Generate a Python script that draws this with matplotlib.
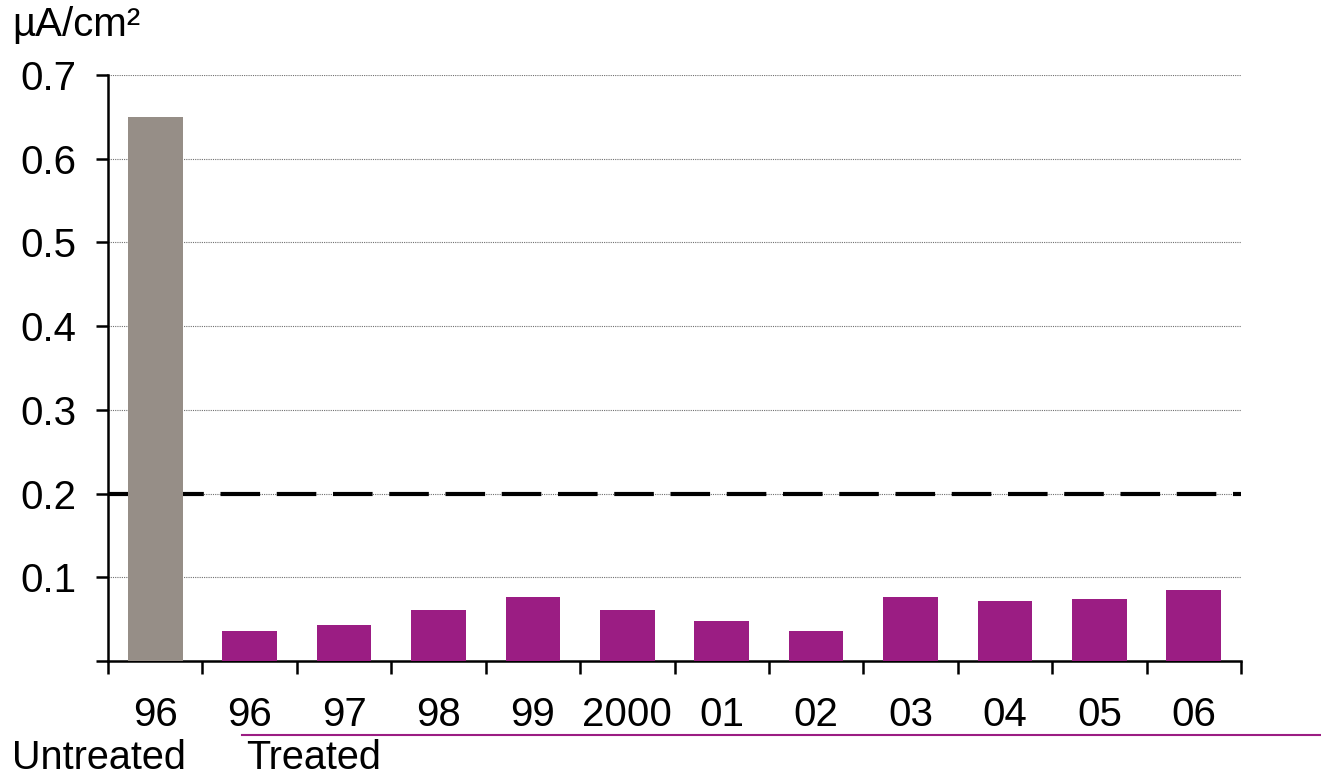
import numpy as np
import matplotlib.pyplot as plt
from matplotlib.lines import Line2D

plt.rcParams['font.family'] = ['Liberation Sans', 'DejaVu Sans']

# data
years = ['96', '96', '97', '98', '99', '2000', '01', '02', '03', '04', '05', '06']
values = [0.65, 0.036, 0.043, 0.061, 0.076, 0.061, 0.048, 0.036, 0.076, 0.072, 0.074, 0.085]
groups = ['Untreated'] + ['Treated'] * 11
threshold = 0.2

grey = '#968e87'
purple = '#9b1d83'

fig = plt.figure(figsize=(13.21, 7.75), dpi=100)
ax = fig.add_axes([0.0818, 0.1471, 0.8576, 0.7561])

x = np.arange(len(years))
colors = [grey if g == 'Untreated' else purple for g in groups]
ax.bar(x, values, width=0.58, color=colors, zorder=3)

# threshold line (behind the bars)
ax.axhline(threshold, color='black', lw=3, dashes=(9.5, 4), zorder=2)

ax.set_xlim(-0.5, len(years) - 0.5)
ax.set_ylim(0, 0.7)
ax.set_yticks(np.arange(0, 0.71, 0.1))
ax.set_yticklabels(['', '0.1', '0.2', '0.3', '0.4', '0.5', '0.6', '0.7'])

# gridlines (skip zero)
for yv in np.arange(0.1, 0.71, 0.1):
    ax.axhline(yv, color='#707070', lw=0.8, ls=(0, (1, 1)), zorder=1)

# major ticks at category boundaries, labels on minor ticks at centers
ax.set_xticks(np.arange(-0.5, len(years), 1))
ax.set_xticklabels([])
ax.set_xticks(x, minor=True)
ax.set_xticklabels(years, minor=True)
ax.tick_params(axis='x', which='major', length=9, width=1.8, direction='out')
ax.tick_params(axis='x', which='minor', length=0, pad=25, labelsize=29)
ax.tick_params(axis='y', length=9, width=1.8, direction='out', pad=14, labelsize=29)

for s in ['top', 'right']:
    ax.spines[s].set_visible(False)
ax.spines['left'].set_linewidth(1.8)
ax.spines['bottom'].set_linewidth(1.8)

fig.text(0.009, 0.9535, 'µA/cm²', fontsize=29, ha='left', va='baseline')
fig.text(0.009, 0.008, 'Untreated', fontsize=28.5, ha='left', va='baseline')
fig.text(0.186, 0.008, 'Treated', fontsize=28.5, ha='left', va='baseline')
fig.add_artist(Line2D([0.183, 1.0], [0.0516, 0.0516], color=purple, lw=1.5,
                      transform=fig.transFigure))

fig.savefig('out.png', dpi=100)
